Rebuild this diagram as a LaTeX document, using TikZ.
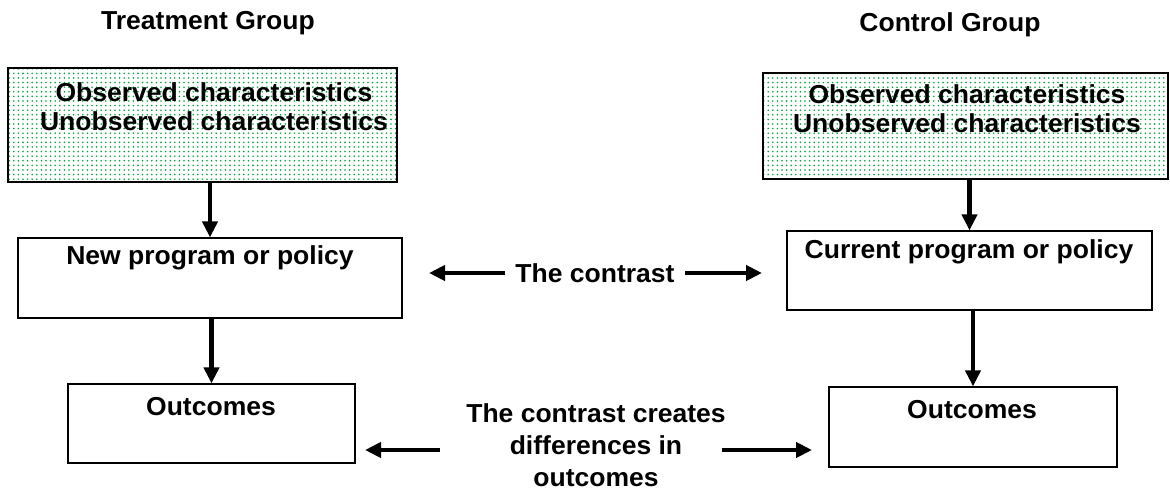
\documentclass[tikz,border=0pt]{standalone}
\usepackage{fontspec}
\setmainfont{Liberation Sans}[FakeStretch=1.02]
\usetikzlibrary{arrows.meta,patterns.meta,shadows}
\definecolor{dotgreen}{RGB}{0,165,60}
\begin{document}
\begin{tikzpicture}[x=1pt,y=-1pt,
  txt/.style={font=\fontsize{26}{29}\selectfont\bfseries, inner sep=0pt, align=center},
  box/.style={draw=black, line width=1.2pt, fill=white, inner sep=0pt,
    drop shadow={shadow xshift=1.2pt, shadow yshift=-1.4pt, fill=black!45, opacity=1}},
  dotbox/.style={box, preaction={fill=white}, pattern={Dots[distance=4.6pt,radius=0.9pt]}, pattern color=dotgreen},
  arr/.style={line width=4.5pt, -{Triangle[length=16pt,width=15pt]}}]
\useasboundingbox (0,0) rectangle (1170,492);

% titles
\node[txt] (tT) at (208,23) {Treatment Group};
\node[txt] (tC) at (950,25) {Control Group};

% top boxes
\node[dotbox, minimum width=389pt, minimum height=114pt] (obsT) at (202.5,125) {};
\node[txt] (obsTt) at (214,106.5) {Observed characteristics\\Unobserved characteristics};
\node[dotbox, minimum width=405pt, minimum height=106pt] (obsC) at (965.5,126) {};
\node[txt] (obsCt) at (967,109) {Observed characteristics\\Unobserved characteristics};

% program boxes
\node[box, minimum width=384pt, minimum height=80pt] (newp) at (210,278) {};
\node[txt] (newpt) at (210,258) {New program or policy};
\node[box, minimum width=365pt, minimum height=79pt] (cur) at (969.5,270.5) {};
\node[txt] (curt) at (969,252) {Current program or policy};

% outcome boxes
\node[box, minimum width=287pt, minimum height=79pt] (outL) at (211.5,423.5) {};
\node[txt] (outLt) at (211,407) {Outcomes};
\node[box, minimum width=288pt, minimum height=80pt] (outR) at (973,427) {};
\node[txt] (outRt) at (972,410) {Outcomes};

% vertical arrows
\draw[arr] (obsT.south -| newp.north) -- (newp.north);
\draw[arr] (obsC.south -| cur.north) -- (cur.north);
\draw[arr] (newp.south -| outL.north) -- (outL.north);
\draw[arr] (cur.south -| outR.north) -- (outR.north);

% contrast
\node[txt] (con) at (595,273) {The contrast};
\coordinate (conLs) at (505,273);
\coordinate (conLe) at (429,273);
\coordinate (conRs) at (685,273);
\coordinate (conRe) at (762,273);
\draw[arr] (conLs) -- (conLe);
\draw[arr] (conRs) -- (conRe);

% differences
\node[txt, font=\fontsize{26}{32}\selectfont\bfseries] (diff) at (596,445) {The contrast creates\\differences in\\outcomes};
\coordinate (dLs) at (440,450);
\coordinate (dLe) at (365,450);
\coordinate (dRs) at (722,450);
\coordinate (dRe) at (812,450);
\draw[arr] (dLs) -- (dLe);
\draw[arr] (dRs) -- (dRe);
\end{tikzpicture}
\end{document}
